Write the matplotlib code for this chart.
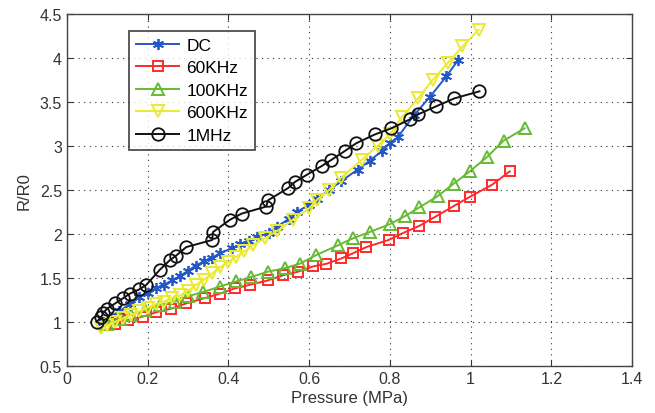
import matplotlib
matplotlib.use("Agg")
import matplotlib.pyplot as plt

plt.rcParams['font.family'] = ['Liberation Sans', 'DejaVu Sans']

dc_x = [0.09, 0.11, 0.13, 0.156, 0.18, 0.20, 0.22, 0.24, 0.26, 0.28, 0.30, 0.32, 0.34, 0.36, 0.38,
        0.41, 0.43, 0.45, 0.47, 0.50, 0.52, 0.55, 0.57, 0.60, 0.62, 0.65, 0.68, 0.72, 0.75, 0.78,
        0.80, 0.82, 0.86, 0.90, 0.94, 0.97]
dc_y = [1.00, 1.06, 1.12, 1.20, 1.28, 1.33, 1.38, 1.42, 1.47, 1.52, 1.58, 1.64, 1.69, 1.73, 1.78,
        1.84, 1.88, 1.92, 1.96, 2.01, 2.08, 2.17, 2.25, 2.33, 2.40, 2.50, 2.60, 2.73, 2.83, 2.94,
        3.03, 3.10, 3.35, 3.56, 3.79, 3.98]

k60_x = [0.12, 0.152, 0.189, 0.222, 0.259, 0.296, 0.342, 0.379, 0.416, 0.453, 0.498, 0.536, 0.573,
         0.61, 0.643, 0.68, 0.709, 0.742, 0.797, 0.833, 0.873, 0.911, 0.96, 0.998, 1.054, 1.097]
k60_y = [0.98, 1.02, 1.06, 1.11, 1.15, 1.21, 1.27, 1.32, 1.38, 1.42, 1.47, 1.53, 1.57,
         1.63, 1.66, 1.72, 1.78, 1.85, 1.93, 2.01, 2.09, 2.19, 2.32, 2.42, 2.56, 2.71]

k100_x = [0.10, 0.131, 0.16, 0.193, 0.23, 0.268, 0.30, 0.338, 0.379, 0.42, 0.457, 0.498, 0.54,
          0.577, 0.618, 0.672, 0.709, 0.75, 0.80, 0.837, 0.873, 0.919, 0.958, 0.998, 1.04, 1.082, 1.134]
k100_y = [0.97, 1.03, 1.08, 1.13, 1.19, 1.23, 1.29, 1.34, 1.40, 1.46, 1.51, 1.57, 1.61,
          1.66, 1.76, 1.87, 1.95, 2.02, 2.11, 2.20, 2.30, 2.43, 2.57, 2.71, 2.87, 3.06, 3.20]

k600_x = [0.085, 0.10, 0.12, 0.14, 0.16, 0.18, 0.20, 0.22, 0.24, 0.26, 0.28, 0.30, 0.32, 0.34, 0.36,
          0.38, 0.40, 0.42, 0.44, 0.46, 0.49, 0.52, 0.56, 0.60, 0.62, 0.65, 0.68, 0.73, 0.77, 0.80,
          0.83, 0.87, 0.906, 0.943, 0.98, 1.02]
k600_y = [0.93, 0.96, 1.00, 1.04, 1.08, 1.12, 1.16, 1.20, 1.23, 1.27, 1.30, 1.35, 1.42, 1.48, 1.55,
          1.62, 1.68, 1.74, 1.80, 1.87, 1.95, 2.03, 2.16, 2.29, 2.39, 2.50, 2.64, 2.84, 3.00, 3.13,
          3.33, 3.54, 3.75, 3.94, 4.13, 4.32]

m1_x = [0.074, 0.085, 0.09, 0.10, 0.12, 0.14, 0.156, 0.18, 0.197, 0.23, 0.255, 0.27, 0.296, 0.36,
        0.362, 0.404, 0.433, 0.494, 0.498, 0.548, 0.565, 0.594, 0.631, 0.655, 0.688, 0.717, 0.763,
        0.804, 0.849, 0.871, 0.915, 0.96, 1.022]
m1_y = [1.00, 1.05, 1.10, 1.15, 1.21, 1.27, 1.32, 1.37, 1.42, 1.59, 1.70, 1.75, 1.85, 1.93,
        2.02, 2.16, 2.23, 2.31, 2.38, 2.52, 2.59, 2.67, 2.77, 2.84, 2.94, 3.03, 3.13,
        3.20, 3.30, 3.36, 3.45, 3.54, 3.62]

labels = ['DC', '60KHz', '100KHz', '600KHz', '1MHz']
xticks = [0, 0.2, 0.4, 0.6, 0.8, 1, 1.2, 1.4]
yticks = [0.5, 1, 1.5, 2, 2.5, 3, 3.5, 4, 4.5]

fig = plt.figure(figsize=(6.55, 4.14), dpi=100)
ax = fig.add_axes([0.102, 0.114, 0.863, 0.850])

lw = 1.4
ax.plot(dc_x, dc_y, color='#2458C6', marker=(6, 2, 0), ms=8, mew=1.3, lw=lw, label=labels[0])
ax.plot(k60_x, k60_y, color='#FF2A2A', marker='s', ms=7, mfc='none', mew=1.4, lw=lw, label=labels[1])
ax.plot(k100_x, k100_y, color='#66BB33', marker='^', ms=9, mfc='none', mew=1.4, lw=lw, label=labels[2])
ax.plot(k600_x, k600_y, color='#EAEA30', marker='v', ms=9, mfc='none', mew=1.4, lw=lw, label=labels[3])
ax.plot(m1_x, m1_y, color='#111111', marker='o', ms=9, mfc='none', mew=1.3, lw=lw, label=labels[4])

ax.set_xlim(0, 1.4)
ax.set_ylim(0.5, 4.5)
ax.set_xticks(xticks)
ax.set_xticklabels(['0', '0.2', '0.4', '0.6', '0.8', '1', '1.2', '1.4'])
ax.set_yticks(yticks)
ax.set_yticklabels(['0.5', '1', '1.5', '2', '2.5', '3', '3.5', '4', '4.5'])
ax.grid(True, linestyle=(0, (1, 4)), color='#333333', linewidth=0.8)
ax.tick_params(direction='in', top=True, right=True, labelsize=11.5, colors='#333333', length=4)
for s in ax.spines.values():
    s.set_color('#444444')
    s.set_linewidth(1.0)
ax.set_xlabel('Pressure (MPa)', fontsize=12, color='#333333', labelpad=3)
ax.set_ylabel('R/R0', fontsize=12, color='#333333', labelpad=6)

leg = ax.legend(loc='upper left', bbox_to_anchor=(0.110, 0.952), fontsize=12.5, frameon=True,
                fancybox=False, edgecolor='#222222', handlelength=2.5, borderpad=0.4,
                labelspacing=0.42, handletextpad=0.4, borderaxespad=0)
leg.get_frame().set_linewidth(1.3)

fig.savefig('out.png', dpi=100)
